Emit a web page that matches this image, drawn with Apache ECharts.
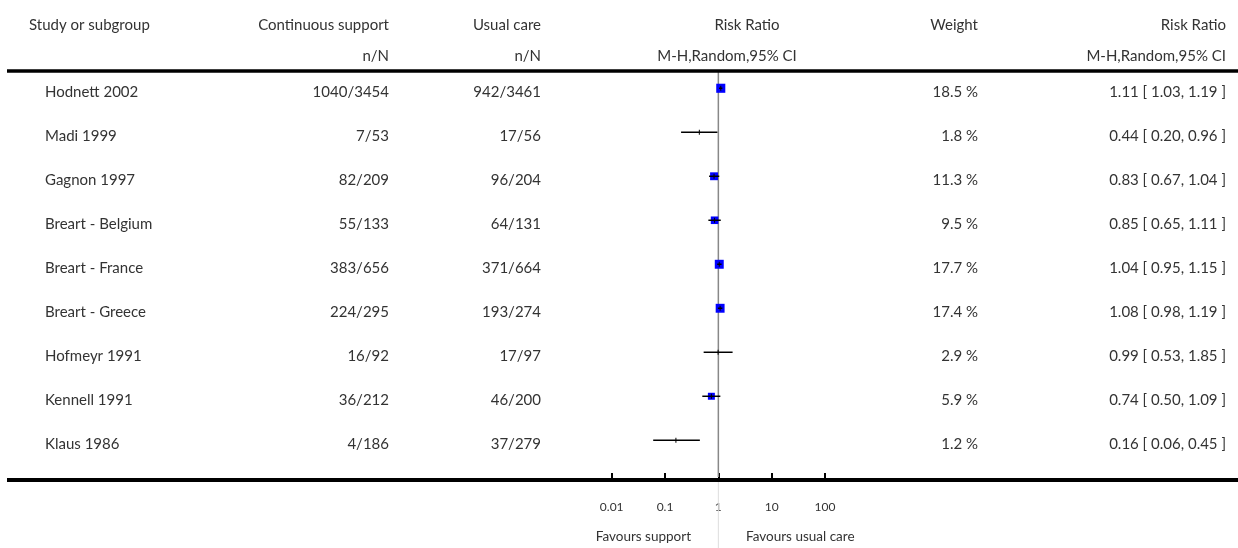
<!DOCTYPE html>
<html>
<head>
<meta charset="utf-8">
<script src="https://cdn.jsdelivr.net/npm/echarts@6/dist/echarts.min.js"></script>
<style>
html,body{margin:0;padding:0;background:#fff;}
#chart{width:1238px;height:548px;}
</style>
</head>
<body>
<div id="chart"></div>
<script>
const studies = ['Hodnett 2002','Madi 1999','Gagnon 1997','Breart - Belgium','Breart - France','Breart - Greece','Hofmeyr 1991','Kennell 1991','Klaus 1986'];
const supportNN = ['1040/3454','7/53','82/209','55/133','383/656','224/295','16/92','36/212','4/186'];
const usualNN = ['942/3461','17/56','96/204','64/131','371/664','193/274','17/97','46/200','37/279'];
const weights = [18.5, 1.8, 11.3, 9.5, 17.7, 17.4, 2.9, 5.9, 1.2];
const riskRatio = [1.11, 0.44, 0.83, 0.85, 1.04, 1.08, 0.99, 0.74, 0.16];
const ciLow = [1.03, 0.20, 0.67, 0.65, 0.95, 0.98, 0.53, 0.50, 0.06];
const ciHigh = [1.19, 0.96, 1.04, 1.11, 1.15, 1.19, 1.85, 1.09, 0.45];
const tickValues = [0.01, 0.1, 1, 10, 100];
const headers1 = ['Study or subgroup','Continuous support','Usual care','Risk Ratio','Weight','Risk Ratio'];
const headers2 = ['n/N','n/N','M-H,Random,95% CI','M-H,Random,95% CI'];
const favours = ['Favours support','Favours usual care'];

const FONT = 'Lato, "Open Sans", sans-serif';
const TXT = '#333';
const FS = 15;

const fmt2 = v => v.toFixed(2);

const forestData = riskRatio.map((v, i) => [v, i, ciLow[i], ciHigh[i], weights[i]]);
const tableData = studies.map((s, i) => [1, i]);

function txt(x, y, text, align, size) {
  return {type: 'text', x: x, y: y, style: {text: text, fill: TXT, font: (size || FS) + 'px ' + FONT, textAlign: align, textVerticalAlign: 'middle'}};
}

const chart = echarts.init(document.getElementById('chart'), null, {renderer: 'canvas'});

const option = {
  animation: false,
  backgroundColor: '#fff',
  grid: {left: 611.7, width: 213.3, top: 70, height: 410},
  xAxis: {
    type: 'log', logBase: 10, min: 0.01, max: 100,
    axisLine: {show: false, onZero: false},
    axisTick: {show: true, inside: true, length: 7, lineStyle: {color: '#000', width: 2}},
    splitLine: {show: false},
    axisLabel: {
      margin: 21, color: TXT, fontSize: 12, fontFamily: FONT,
      formatter: v => {
        const m = tickValues.find(t => Math.abs(t - v) / t < 1e-6);
        return m === undefined ? '' : String(m);
      }
    }
  },
  yAxis: {type: 'value', inverse: true, min: -0.415, max: 8.903, show: false},
  series: [
    {
      type: 'custom', name: 'refline', clip: false, z: 1,
      data: [[1, 0]],
      renderItem: (params, api) => {
        const x = api.coord([1, 0])[0];
        return {type: 'group', children: [
          {type: 'line', shape: {x1: x, y1: 70, x2: x, y2: 477}, style: {stroke: '#888', lineWidth: 1.5}},
          {type: 'line', shape: {x1: x, y1: 482, x2: x, y2: 548}, style: {stroke: '#ddd', lineWidth: 1}}
        ]};
      }
    },
    {
      type: 'custom', name: 'forest', clip: false, z: 3,
      data: forestData,
      encode: {x: 0, y: 1},
      renderItem: (params, api) => {
        const i = api.value(1);
        const c = api.coord([api.value(0), i]);
        const xl = api.coord([api.value(2), i])[0];
        const xh = api.coord([api.value(3), i])[0];
        const w = api.value(4);
        const children = [];
        if (w >= 3) {
          const s = 6 + w / 6;
          children.push({type: 'rect', shape: {x: c[0] - s / 2, y: c[1] - s / 2, width: s, height: s}, style: {fill: '#0000ff'}});
        }
        children.push({type: 'line', shape: {x1: xl, y1: c[1], x2: xh, y2: c[1]}, style: {stroke: '#000', lineWidth: 1.5}});
        children.push({type: 'line', shape: {x1: c[0], y1: c[1] - 2.5, x2: c[0], y2: c[1] + 2.5}, style: {stroke: '#000', lineWidth: 1}});
        return {type: 'group', children: children};
      }
    },
    {
      type: 'custom', name: 'table', clip: false, z: 2,
      data: tableData,
      encode: {x: 0, y: 1},
      renderItem: (params, api) => {
        const i = params.dataIndex;
        const y = api.coord([1, api.value(1)])[1] + 4;
        return {type: 'group', children: [
          txt(45, y, studies[i], 'left'),
          txt(389, y, supportNN[i], 'right'),
          txt(541, y, usualNN[i], 'right'),
          txt(978, y, weights[i].toFixed(1) + ' %', 'right'),
          txt(1226, y, fmt2(riskRatio[i]) + ' [ ' + fmt2(ciLow[i]) + ', ' + fmt2(ciHigh[i]) + ' ]', 'right')
        ]};
      }
    }
  ],
  graphic: [
    txt(29, 25, headers1[0], 'left'),
    txt(389, 25, headers1[1], 'right'),
    txt(541, 25, headers1[2], 'right'),
    txt(747, 25, headers1[3], 'center'),
    txt(978, 25, headers1[4], 'right'),
    txt(1226, 25, headers1[5], 'right'),
    txt(389, 56, headers2[0], 'right'),
    txt(541, 56, headers2[1], 'right'),
    txt(727, 56, headers2[2], 'center'),
    txt(1226, 56, headers2[3], 'right'),
    {type: 'line', shape: {x1: 7, y1: 71, x2: 1238, y2: 71}, style: {stroke: '#000', lineWidth: 3.5}, z: 10},
    {type: 'line', shape: {x1: 7, y1: 480, x2: 1238, y2: 480}, style: {stroke: '#000', lineWidth: 4}, z: 10},
    txt(691, 537, favours[0], 'right', 13.5),
    txt(746, 537, favours[1], 'left', 13.5)
  ]
};
chart.setOption(option);
</script>
</body>
</html>
